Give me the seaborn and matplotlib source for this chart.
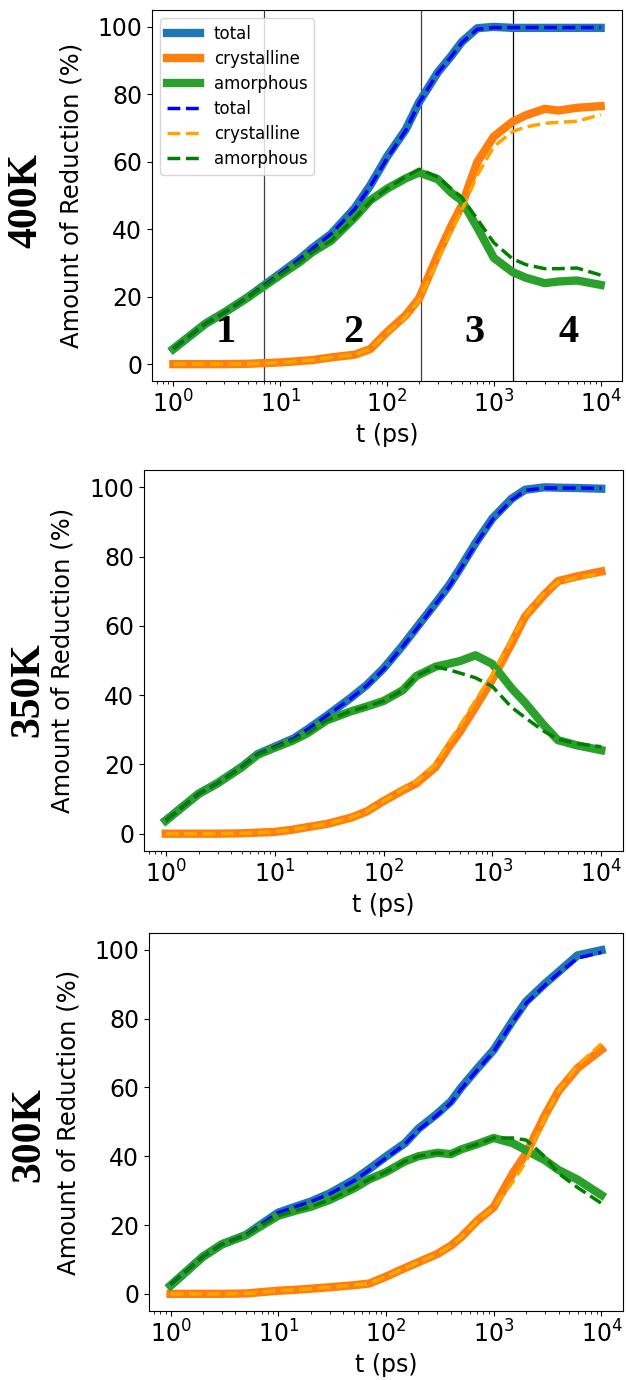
import matplotlib
matplotlib.use("Agg")
import matplotlib.pyplot as plt
import seaborn as sns
import pandas as pd

# ---------------- data ----------------
t_ps = [1, 2, 3, 5, 7, 10, 15, 20, 30, 50, 70, 100, 150, 200, 300, 400, 500,
        700, 1000, 1500, 2000, 3000, 4000, 6000, 10000]

# 400K
total_400 = [4.5, 12.0, 15.3, 19.9, 23.3, 26.9, 31.0, 34.4, 38.6, 46.3, 53.1, 61.5, 69.6,
             77.7, 86.6, 91.4, 95.5, 99.6, 100.0, 99.7, 99.7, 99.7, 99.7, 99.7, 99.7]
cryst_400 = [0.0, 0.0, 0.0, 0.1, 0.3, 0.5, 0.9, 1.2, 2.0, 2.8, 4.5, 9.5, 14.5,
             19.5, 32.5, 41.0, 47.0, 59.9, 67.5, 71.9, 73.8, 75.7, 75.2, 76.0, 76.5]
amorph_400 = [4.5, 12.0, 15.3, 19.8, 23.0, 26.4, 30.1, 33.2, 36.6, 43.5, 48.6, 52.0, 55.1,
              56.8, 54.8, 50.8, 48.5, 40.5, 31.5, 27.3, 25.6, 24.0, 24.5, 24.8, 23.5]
model_total_400 = [4.6, 12.0, 15.3, 19.9, 23.3, 26.9, 31.0, 34.2, 38.6, 46.0, 52.8, 61.0, 69.3,
                   77.5, 86.4, 91.2, 95.3, 99.3, 99.8, 99.8, 99.8, 99.8, 99.8, 99.8, 99.8]
model_cryst_400 = [0.0, 0.0, 0.0, 0.1, 0.3, 0.5, 0.9, 1.2, 2.0, 2.8, 4.5, 9.3, 14.0,
                   19.0, 31.0, 39.5, 45.5, 56.0, 64.5, 69.0, 70.3, 71.4, 71.7, 72.0, 74.0]
model_amorph_400 = [4.6, 12.0, 15.3, 19.8, 23.0, 26.4, 30.1, 33.2, 36.6, 43.3, 48.3, 52.0, 55.6,
                    57.8, 55.5, 52.0, 49.5, 43.0, 36.0, 31.2, 29.5, 28.3, 28.3, 28.5, 26.4]

# 350K
total_350 = [3.8, 11.5, 14.6, 19.3, 23.0, 25.1, 27.5, 30.1, 34.0, 39.2, 42.9, 47.7, 54.3,
             59.4, 66.5, 71.7, 76.4, 83.9, 91.0, 96.7, 99.3, 100.0, 99.9, 99.8, 99.6]
cryst_350 = [0.0, 0.0, 0.0, 0.1, 0.3, 0.5, 1.2, 1.9, 2.8, 4.6, 6.4, 9.4, 12.5,
             14.5, 19.2, 25.1, 29.3, 36.6, 44.6, 54.9, 62.7, 69.0, 72.9, 74.3, 75.7]
amorph_350 = [3.8, 11.5, 14.6, 19.2, 22.8, 24.8, 27.0, 29.0, 32.7, 35.3, 36.7, 38.3, 41.4,
              45.5, 48.2, 49.1, 49.8, 51.5, 49.0, 42.0, 37.8, 31.2, 27.0, 25.5, 24.1]
model_total_350 = [3.8, 11.5, 14.6, 19.3, 23.0, 25.1, 27.5, 30.1, 34.0, 39.0, 42.7, 47.4, 54.0,
                   59.0, 66.2, 71.3, 76.0, 83.5, 90.6, 96.3, 99.1, 99.8, 99.8, 99.8, 99.7]
model_cryst_350 = [0.0, 0.0, 0.0, 0.1, 0.3, 0.5, 1.2, 1.9, 2.8, 4.6, 6.4, 9.4, 12.8,
                   15.0, 20.0, 26.5, 31.0, 38.5, 46.0, 56.0, 63.0, 69.5, 72.5, 74.0, 75.1]
model_amorph_350 = [3.8, 11.5, 14.6, 19.2, 22.8, 24.8, 27.0, 29.0, 32.7, 35.3, 36.7, 38.3, 41.4,
                    45.5, 48.2, 47.3, 46.4, 45.0, 42.5, 36.5, 33.5, 29.5, 27.3, 26.0, 25.1]

# 300K
total_300 = [2.4, 10.8, 14.4, 17.1, 20.3, 23.6, 25.5, 26.8, 29.2, 33.1, 36.3, 39.9, 43.8,
             48.0, 52.4, 55.9, 60.0, 65.4, 70.9, 79.4, 85.0, 90.2, 93.6, 98.4, 99.9]
cryst_300 = [0.0, 0.0, 0.0, 0.1, 0.5, 0.9, 1.2, 1.5, 1.9, 2.5, 3.0, 5.0, 7.5,
             9.2, 11.6, 14.0, 16.5, 21.2, 25.2, 35.0, 40.8, 52.0, 59.0, 65.6, 71.0]
amorph_300 = [2.4, 10.8, 14.4, 17.0, 19.8, 22.7, 24.3, 25.3, 27.3, 30.6, 33.3, 35.4, 38.5,
              40.0, 41.0, 40.6, 42.0, 43.5, 45.3, 43.8, 41.7, 38.8, 36.0, 33.2, 28.7]
model_total_300 = [2.7, 10.8, 14.4, 17.1, 20.3, 23.6, 25.5, 26.8, 29.0, 32.8, 36.0, 39.5, 43.5,
                   47.6, 52.0, 55.5, 59.6, 65.0, 70.5, 79.0, 84.5, 89.8, 93.2, 97.6, 99.3]
model_cryst_300 = [0.0, 0.0, 0.0, 0.1, 0.5, 0.9, 1.2, 1.5, 1.9, 2.5, 3.0, 5.0, 7.5,
                   9.2, 11.6, 14.0, 16.5, 21.2, 25.2, 32.5, 38.5, 51.5, 59.0, 66.5, 72.7]
model_amorph_300 = [2.7, 10.8, 14.4, 17.0, 19.8, 22.7, 24.3, 25.3, 27.3, 30.6, 33.3, 35.4, 38.5,
                    40.0, 41.0, 40.6, 42.0, 43.5, 45.3, 45.3, 44.7, 39.8, 35.0, 30.9, 26.3]

temps = ["400K", "350K", "300K"]
series_names = ["total", "crystalline", "amorphous"]
sim_colors = ["tab:blue", "tab:orange", "tab:green"]
model_colors = ["blue", "orange", "green"]
stage_lines = [7, 207, 1520]
stage_labels = ["1", "2", "3", "4"]
stage_label_t = [3.1, 48, 655, 5040]
stage_label_y = 9.5

panels = {
    "400K": ([total_400, cryst_400, amorph_400], [model_total_400, model_cryst_400, model_amorph_400]),
    "350K": ([total_350, cryst_350, amorph_350], [model_total_350, model_cryst_350, model_amorph_350]),
    "300K": ([total_300, cryst_300, amorph_300], [model_total_300, model_cryst_300, model_amorph_300]),
}

# ---------------- figure ----------------
W, H = 626, 1380
fig = plt.figure(figsize=(W / 100, H / 100), dpi=100)

# axes boxes in pixels: left, right, top, bottom
boxes = [(152, 622, 10, 381), (144, 623, 470, 851), (149, 623, 933, 1311)]
temp_label_pos = [(26, 200), (28, 690), (29, 1135)]

serif = ["Liberation Serif", "DejaVu Serif"]

for i, temp in enumerate(temps):
    l, r, t, b = boxes[i]
    ax = fig.add_axes([l / W, 1 - b / H, (r - l) / W, (b - t) / H])
    sims, models = panels[temp]
    for name, vals, c in zip(series_names, sims, sim_colors):
        df = pd.DataFrame({"t": t_ps, "v": vals})
        sns.lineplot(data=df, x="t", y="v", ax=ax, color=c, lw=6,
                     label=name if i == 0 else None, legend=False)
    for name, vals, c in zip(series_names, models, model_colors):
        df = pd.DataFrame({"t": t_ps, "v": vals})
        sns.lineplot(data=df, x="t", y="v", ax=ax, color=c, lw=2.5, linestyle="--",
                     label=name if i == 0 else None, legend=False)
    ax.set_xscale("log")
    ax.set_xlabel("t (ps)", fontsize=17)
    ax.set_ylabel("Amount of Reduction (%)", fontsize=17.5)
    ax.yaxis.set_label_coords(-0.145, 0.5)
    ax.tick_params(labelsize=17)
    ax.set_yticks([0, 20, 40, 60, 80, 100])

    if i == 0:
        for x, c in zip(stage_lines, ["0.25", "0.25", "k"]):
            ax.axvline(x, color=c, lw=0.9, zorder=1)
        for lab, x in zip(stage_labels, stage_label_t):
            ax.text(x, stage_label_y, lab, ha="center", va="center", fontsize=29,
                    fontweight="bold", family=serif)
        ax.legend(loc="upper left", fontsize=12, labelspacing=0.42)

    fx, fy = temp_label_pos[i]
    fig.text(fx / W, 1 - fy / H, temp, rotation=90, ha="center", va="center",
             fontsize=30, fontweight="bold", family=serif)

fig.savefig("out.png", dpi=100)
